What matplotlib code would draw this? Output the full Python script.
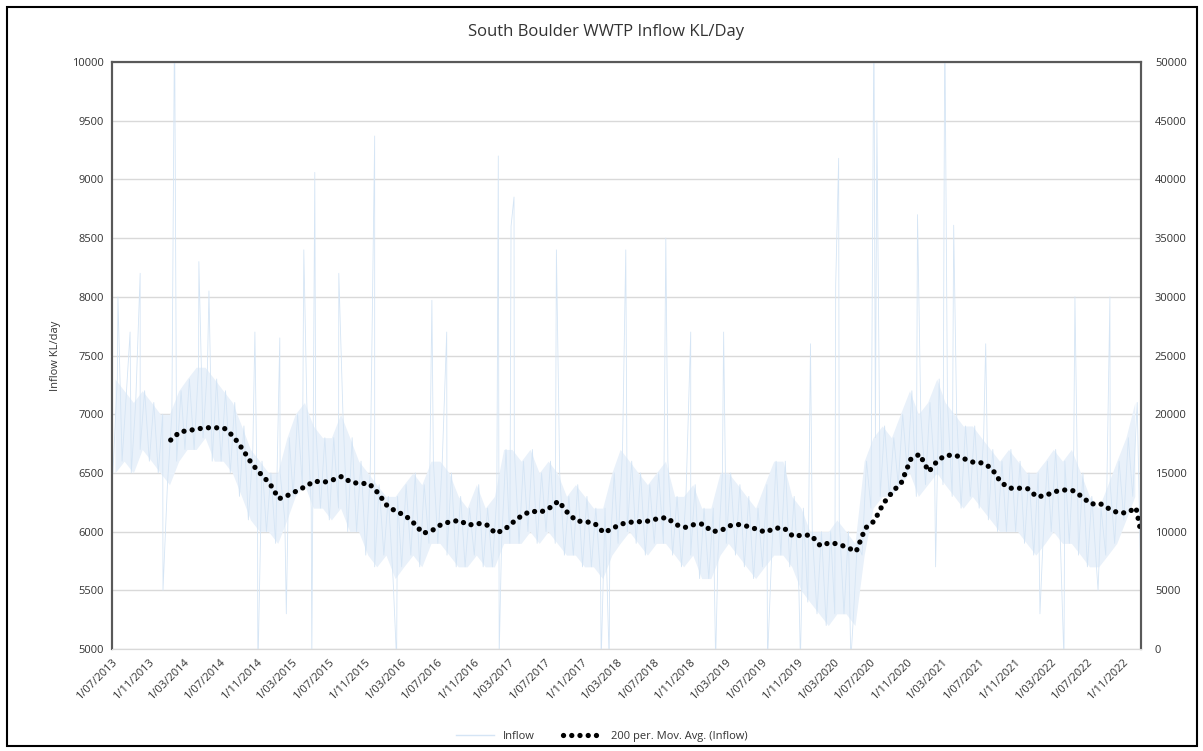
import matplotlib
matplotlib.use('Agg')
import matplotlib.pyplot as plt
import matplotlib.dates as mdates
from matplotlib.lines import Line2D
from matplotlib.patches import Rectangle
import pandas as pd
import numpy as np

plt.rcParams['font.family'] = ['Open Sans', 'DejaVu Sans']

# monthly band of the daily inflow (low / high), Jul 2013 .. Dec 2022
inflow_lo = [6500, 6600, 6500, 6700, 6600, 6500, 6400, 6600, 6700, 6700, 6800, 6600,
             6600, 6500, 6300, 6100, 6000, 6000, 5900, 6100, 6300, 6400, 6200, 6200,
             6100, 6200, 6000, 6000, 5800, 5700, 5800, 5600, 5700, 5800, 5700, 5900,
             5900, 5800, 5700, 5700, 5800, 5700, 5700, 5900, 5900, 5900, 6000, 5900,
             6000, 5900, 5800, 5800, 5700, 5700, 5600, 5800, 5900, 6000, 5900, 5800,
             5900, 5900, 5800, 5700, 5800, 5600, 5600, 5800, 5900, 5800, 5700, 5600,
             5700, 5800, 5800, 5700, 5500, 5400, 5300, 5200, 5300, 5300, 5200, 5800,
             6200, 6300, 6300, 6400, 6500, 6300, 6400, 6500, 6400, 6300, 6200, 6300,
             6200, 6100, 6000, 6000, 6000, 5900, 5800, 5900, 6000, 5900, 5900, 5800,
             5700, 5700, 5800, 5900, 6100, 6300]
inflow_hi = [7300, 7200, 7100, 7200, 7100, 7000, 7000, 7200, 7300, 7400, 7400, 7300,
             7200, 7100, 6900, 6700, 6600, 6500, 6500, 6800, 7000, 7100, 6900, 6800,
             6800, 7000, 6800, 6600, 6500, 6400, 6300, 6300, 6400, 6500, 6400, 6600,
             6600, 6500, 6300, 6200, 6400, 6200, 6300, 6700, 6700, 6600, 6700, 6500,
             6600, 6500, 6300, 6400, 6300, 6200, 6200, 6500, 6700, 6600, 6500, 6400,
             6500, 6600, 6300, 6300, 6400, 6200, 6200, 6500, 6500, 6400, 6300, 6200,
             6400, 6600, 6600, 6300, 6200, 6000, 6000, 6000, 6100, 6000, 5900, 6600,
             6800, 6900, 6800, 7000, 7200, 7000, 7100, 7300, 7100, 7000, 6900, 6900,
             6800, 6700, 6600, 6700, 6600, 6500, 6500, 6600, 6700, 6600, 6700, 6500,
             6300, 6200, 6400, 6600, 6800, 7100]

# single-day peaks and dips
spike_dates = ['2013-07-21', '2013-08-31', '2013-10-04', '2013-12-20', '2014-01-28',
               '2014-04-20', '2014-05-24', '2014-10-26', '2014-11-05', '2015-01-18',
               '2015-02-09', '2015-04-09', '2015-05-06', '2015-05-16', '2015-08-05',
               '2015-12-04', '2016-02-16', '2016-06-14', '2016-08-03', '2017-01-24',
               '2017-01-27', '2017-03-08', '2017-03-18', '2017-08-08', '2018-01-06',
               '2018-02-02', '2018-03-30', '2018-08-12', '2018-11-04', '2019-01-27',
               '2019-02-23', '2019-07-21', '2019-11-09', '2019-12-13', '2020-03-07',
               '2020-03-17', '2020-04-27', '2020-07-14', '2020-07-24', '2020-12-08',
               '2021-02-07', '2021-03-10', '2021-04-09', '2021-07-26', '2022-01-25',
               '2022-04-16', '2022-05-23', '2022-08-09', '2022-09-18', '2022-12-31']
spike_vals = [8000, 7700, 8200, 5500, 10400,
              8300, 8050, 7700, 4800, 7650,
              5300, 8400, 4900, 9060, 8200,
              9370, 4900, 7970, 7700, 9200,
              4950, 8600, 8850, 8400, 4900,
              4900, 8400, 8500, 7700, 4900,
              7700, 4900, 4900, 7600, 8100,
              9180, 4900, 10400, 9500, 8700,
              5700, 10400, 8610, 7600, 5300,
              4900, 8000, 5500, 8000, 5600]

# 200 period moving average, mid-month from Jan 2014
ma_vals = [6780, 6850, 6860, 6875, 6885, 6885, 6880, 6810, 6700, 6580, 6490, 6410,
           6280, 6310, 6345, 6385, 6430, 6420, 6440, 6470, 6420, 6410, 6410, 6330,
           6220, 6170, 6140, 6070, 5985, 6010, 6060, 6085, 6095, 6055, 6070, 6060,
           5985, 6020, 6080, 6140, 6175, 6165, 6200, 6260, 6160, 6090, 6085, 6070,
           5990, 6030, 6065, 6080, 6085, 6090, 6110, 6120, 6060, 6035, 6060, 6065,
           6000, 6010, 6050, 6060, 6045, 6020, 5995, 6030, 6030, 5960, 5970, 5970,
           5880, 5905, 5895, 5865, 5830, 6030, 6090, 6240, 6340, 6420, 6615, 6660,
           6510, 6610, 6650, 6650, 6620, 6590, 6585, 6540, 6420, 6370, 6370, 6365,
           6295, 6310, 6340, 6355, 6350, 6300, 6235, 6240, 6195, 6160, 6160, 6205]
ma_end = 6000

months = pd.date_range('2013-07-01', periods=len(inflow_lo), freq='MS')
band = pd.DataFrame({'lo': inflow_lo, 'hi': inflow_hi}, index=months)

pts = pd.concat([
    pd.Series(inflow_lo, index=months + pd.Timedelta(days=3)),
    pd.Series(inflow_hi, index=months + pd.Timedelta(days=18)),
    pd.Series(spike_vals, index=pd.to_datetime(spike_dates)),
]).sort_index()

ma_dates = pd.date_range('2014-01-01', periods=len(ma_vals), freq='MS') + pd.Timedelta(days=14)
ma = pd.Series(ma_vals + [ma_end], index=list(ma_dates) + [pd.Timestamp('2022-12-31')])

fig = plt.figure(figsize=(12.03, 7.51), dpi=100)
ax = fig.add_axes([0.0931, 0.1358, 0.8554, 0.7816])

ax.fill_between(band.index + pd.Timedelta(days=10), band['lo'], band['hi'],
                color='#e9f1fa', lw=0, zorder=1)
ax.plot(pts.index, pts.values, color='#d5e5f5', lw=0.6, zorder=2)
ax.plot(ma.index, ma.values, color='black', lw=3.8,
        linestyle=(0, (0.01, 1.55)), dash_capstyle='round', zorder=3)

ax.set_xlim(pd.Timestamp('2013-07-01'), pd.Timestamp('2023-01-01'))
ax.set_ylim(5000, 10000)
ax.set_yticks(np.arange(5000, 10001, 500))
ax.grid(axis='y', color='#d9d9d9', lw=1)
ax.set_axisbelow(True)

ax.xaxis.set_major_locator(mdates.MonthLocator(bymonth=[3, 7, 11]))
ax.xaxis.set_major_formatter(plt.FuncFormatter(
    lambda v, p: '1/%s' % mdates.num2date(v).strftime('%m/%Y')))
for lab in ax.get_xticklabels():
    lab.set_rotation(45)
    lab.set_ha('right')
    lab.set_rotation_mode('anchor')
ax.tick_params(length=0, labelsize=8, colors='#333333', pad=6)
ax.set_ylabel('Inflow KL/day', fontsize=8, color='#333333', labelpad=8)

ax2 = ax.twinx()
ax2.set_ylim(0, 50000)
ax2.set_yticks(np.arange(0, 50001, 5000))
ax2.tick_params(length=0, labelsize=8, colors='#333333', pad=10)

for a in (ax, ax2):
    for s in ('top', 'left', 'right'):
        a.spines[s].set_color('#595959')
        a.spines[s].set_linewidth(1.5)
    a.spines['bottom'].set_color('#d9d9d9')

fig.text(0.504, 0.958, 'South Boulder WWTP Inflow KL/Day', ha='center', va='center',
         fontsize=12, color='#333333')

handles = [Line2D([], [], color='#d5e5f5', lw=1),
           Line2D([], [], color='black', lw=3.8, linestyle=(0, (0.01, 1.55)),
                  dash_capstyle='round')]
fig.legend(handles, ['Inflow', '200 per. Mov. Avg. (Inflow)'], loc='center',
           bbox_to_anchor=(0.5, 0.019), ncol=2, frameon=False, fontsize=8,
           handlelength=3.5, columnspacing=2.5, labelcolor='#333333')

fig.patches.append(Rectangle((0.006, 0.007), 0.989, 0.984, transform=fig.transFigure,
                             fill=False, edgecolor='black', lw=1.5))

fig.savefig('out.png', dpi=100)
